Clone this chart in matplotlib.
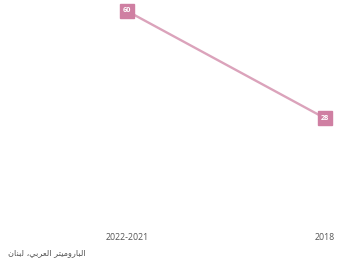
import matplotlib
matplotlib.use("Agg")
import matplotlib.pyplot as plt

# data
categories = ["2022-2021", "2018"]
values = [60, 28]
source = "الباروميتر العربي، لبنان"

plt.rcParams['font.family'] = ['Open Sans', 'DejaVu Sans']

# matplotlib has no arabic shaping, so map letters to presentation forms
FORMS = {
    "ا": ("\uFE8D", "\uFE8E", None, None),
    "ب": ("\uFE8F", "\uFE90", "\uFE91", "\uFE92"),
    "ت": ("\uFE95", "\uFE96", "\uFE97", "\uFE98"),
    "ر": ("\uFEAD", "\uFEAE", None, None),
    "ع": ("\uFEC9", "\uFECA", "\uFECB", "\uFECC"),
    "ل": ("\uFEDD", "\uFEDE", "\uFEDF", "\uFEE0"),
    "م": ("\uFEE1", "\uFEE2", "\uFEE3", "\uFEE4"),
    "ن": ("\uFEE5", "\uFEE6", "\uFEE7", "\uFEE8"),
    "و": ("\uFEED", "\uFEEE", None, None),
    "ي": ("\uFEF1", "\uFEF2", "\uFEF3", "\uFEF4"),
}


def shape_arabic(text):
    out = []
    for i, ch in enumerate(text):
        if ch not in FORMS:
            out.append(ch)
            continue
        prev = text[i - 1] if i > 0 else ""
        nxt = text[i + 1] if i + 1 < len(text) else ""
        joins_prev = prev in FORMS and FORMS[prev][2] is not None
        joins_next = nxt in FORMS and FORMS[ch][2] is not None
        iso, fin, ini, med = FORMS[ch]
        if joins_prev and joins_next:
            out.append(med)
        elif joins_prev:
            out.append(fin)
        elif joins_next:
            out.append(ini)
        else:
            out.append(iso)
    return "".join(reversed(out))


line_color = "#dba3bb"
box_color = "#cf7fa2"

fig = plt.figure(figsize=(3.37, 2.61), dpi=100)
ax = fig.add_axes([0, 49 / 261, 1, 201 / 261])

x = list(range(len(categories)))
ax.plot(x, values, color=line_color, linewidth=1.7, zorder=2, clip_on=False)
ax.plot(x, values, linestyle="none", marker="s", markersize=9.6,
        markerfacecolor=box_color, markeredgecolor=box_color,
        zorder=3, clip_on=False)
for xi, v in zip(x, values):
    ax.text(xi, v, str(v), color="white", fontsize=5.2, fontweight="bold",
            ha="center", va="center", zorder=4)

ax.set_xlim(-127 / 198, 1 + 12 / 198)
ax.set_ylim(0, 60)
ax.set_xticks(x)
ax.set_xticklabels(categories, fontsize=6.3, color="#555555")
ax.tick_params(axis="x", length=0, pad=15)
ax.set_yticks([])
for s in ax.spines.values():
    s.set_visible(False)

fig.text(8 / 337, 1 - 253 / 261, shape_arabic(source), fontsize=5.9,
         color="#555555", ha="left", va="center",
         family=['DejaVu Sans'])

fig.savefig("out.png", dpi=100)
plt.close(fig)
